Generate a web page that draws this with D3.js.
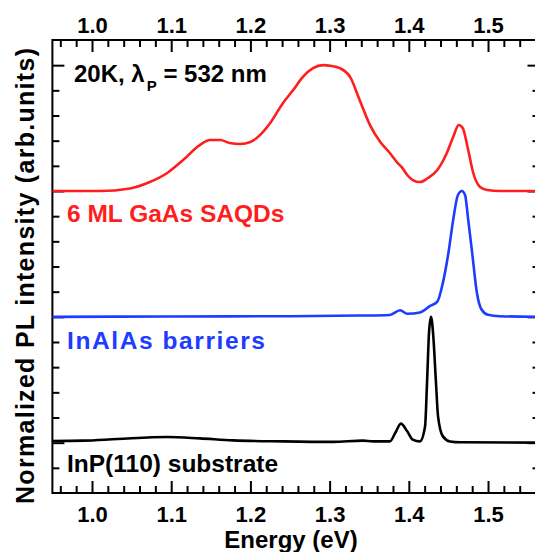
<!DOCTYPE html>
<html><head><meta charset="utf-8">
<script src="https://cdn.jsdelivr.net/npm/d3@7/dist/d3.min.js"></script>
<style>
body{margin:0;background:#fff;}
svg{display:block;font-family:"Liberation Sans",Arial,sans-serif;font-weight:bold;}
</style>
</head><body>
<svg id="chart" width="535" height="552"></svg>
<script>
// ---------- data ----------
const xTickValues = [1.0, 1.1, 1.2, 1.3, 1.4, 1.5];
const xTickLabels = ["1.0", "1.1", "1.2", "1.3", "1.4", "1.5"];
const xDomain = [0.95, 1.565];
const yDomain = [-0.4, 3.2];
const yMajorTicks = [0, 1, 2, 3];

const seriesNames = ["6 ML GaAs SAQDs", "InAlAs barriers", "InP(110) substrate"];
const seriesColors = ["#ff1e1e", "#1e3cff", "#000000"];
const seriesOffsets = [2, 1, 0];

const saqdEnergy = [0.95, 1.010, 1.048, 1.073, 1.095, 1.115, 1.136, 1.149, 1.162, 1.174, 1.187, 1.200, 1.212, 1.225, 1.241, 1.254, 1.266, 1.279, 1.292, 1.301, 1.313, 1.326, 1.338, 1.351, 1.364, 1.376, 1.386, 1.391, 1.398, 1.405, 1.414, 1.424, 1.436, 1.448, 1.456, 1.463, 1.468, 1.475, 1.481, 1.490, 1.499, 1.515, 1.565];
const saqdIntensity = [0.0, 0.0, 0.020, 0.071, 0.143, 0.246, 0.365, 0.405, 0.405, 0.381, 0.373, 0.389, 0.444, 0.540, 0.698, 0.802, 0.905, 0.976, 1.0, 0.995, 0.976, 0.905, 0.722, 0.524, 0.389, 0.302, 0.222, 0.190, 0.127, 0.087, 0.071, 0.103, 0.167, 0.302, 0.429, 0.524, 0.500, 0.325, 0.151, 0.032, 0.008, 0.0, 0.0];

const barrierEnergy = [0.95, 1.10, 1.25, 1.338, 1.376, 1.389, 1.398, 1.414, 1.427, 1.436, 1.443, 1.450, 1.456, 1.462, 1.467, 1.471, 1.475, 1.480, 1.486, 1.492, 1.500, 1.515, 1.565];
const barrierIntensity = [0.0, 0.003, 0.005, 0.010, 0.015, 0.052, 0.024, 0.034, 0.087, 0.121, 0.270, 0.508, 0.770, 0.968, 1.0, 0.968, 0.770, 0.508, 0.190, 0.056, 0.016, 0.005, 0.0];

const substrateEnergy = [0.95, 0.989, 1.032, 1.095, 1.136, 1.178, 1.241, 1.304, 1.342, 1.355, 1.376, 1.383, 1.390, 1.398, 1.405, 1.414, 1.4205, 1.423, 1.4255, 1.428, 1.4306, 1.4343, 1.4369, 1.443, 1.452, 1.465, 1.565];
const substrateIntensity = [0.013, 0.016, 0.029, 0.045, 0.034, 0.018, 0.010, 0.006, 0.016, 0.010, 0.010, 0.079, 0.151, 0.090, 0.024, 0.010, 0.129, 0.476, 0.873, 1.0, 0.873, 0.476, 0.209, 0.050, 0.010, 0.003, 0.0];

const seriesEnergy = [saqdEnergy, barrierEnergy, substrateEnergy];
const seriesIntensity = [saqdIntensity, barrierIntensity, substrateIntensity];

// ---------- layout ----------
const svg = d3.select("#chart");
const L = 52.4, R = 539.5, T = 40, B = 493;
const x = d3.scaleLinear().domain(xDomain).range([L, R]);
const y = d3.scaleLinear().domain(yDomain).range([B, T]);

const xMinor = d3.range(0.96, 1.5651, 0.02).map(v => +v.toFixed(2)).filter(v => !xTickValues.some(m => Math.abs(m - v) < 1e-6));
const yMinor = d3.range(-0.2, 3.19, 0.2).map(v => +v.toFixed(2)).filter(v => !yMajorTicks.some(m => Math.abs(m - v) < 1e-6));

const majorLen = 12, minorLen = 7;
function styleAxis(g) {
  g.select(".domain").remove();
  g.selectAll(".tick line").attr("stroke", "#000").attr("stroke-width", 2);
  g.selectAll("text").attr("fill", "#000").attr("font-size", 22).attr("font-weight", "bold")
    .attr("font-family", '"Liberation Sans", Arial, sans-serif');
}

// bottom
svg.append("g").attr("transform", `translate(0,${B})`)
  .call(d3.axisBottom(x).tickValues(xTickValues).tickFormat((d, i) => xTickLabels[i]).tickSizeInner(-majorLen).tickSizeOuter(0).tickPadding(13))
  .call(styleAxis);
svg.append("g").attr("transform", `translate(0,${B})`)
  .call(d3.axisBottom(x).tickValues(xMinor).tickFormat("").tickSizeInner(-minorLen).tickSizeOuter(0))
  .call(styleAxis);
// top
svg.append("g").attr("transform", `translate(0,${T})`)
  .call(d3.axisTop(x).tickValues(xTickValues).tickFormat((d, i) => xTickLabels[i]).tickSizeInner(-majorLen).tickSizeOuter(0).tickPadding(7))
  .call(styleAxis);
svg.append("g").attr("transform", `translate(0,${T})`)
  .call(d3.axisTop(x).tickValues(xMinor).tickFormat("").tickSizeInner(-minorLen).tickSizeOuter(0))
  .call(styleAxis);
// left
svg.append("g").attr("transform", `translate(${L},0)`)
  .call(d3.axisLeft(y).tickValues(yMajorTicks).tickFormat("").tickSizeInner(-majorLen).tickSizeOuter(0))
  .call(styleAxis);
svg.append("g").attr("transform", `translate(${L},0)`)
  .call(d3.axisLeft(y).tickValues(yMinor).tickFormat("").tickSizeInner(-minorLen).tickSizeOuter(0))
  .call(styleAxis);
// right
svg.append("g").attr("transform", `translate(${R},0)`)
  .call(d3.axisRight(y).tickValues(yMajorTicks).tickFormat("").tickSizeInner(-majorLen).tickSizeOuter(0))
  .call(styleAxis);
svg.append("g").attr("transform", `translate(${R},0)`)
  .call(d3.axisRight(y).tickValues(yMinor).tickFormat("").tickSizeInner(-minorLen).tickSizeOuter(0))
  .call(styleAxis);

// frame
svg.append("rect").attr("x", L).attr("y", T).attr("width", R - L).attr("height", B - T)
  .attr("fill", "none").attr("stroke", "#000").attr("stroke-width", 2);

// curves
svg.append("clipPath").attr("id", "plotclip").append("rect")
  .attr("x", L).attr("y", T).attr("width", R - L).attr("height", B - T);
const lineGen = d3.line().curve(d3.curveMonotoneX);
seriesNames.forEach((name, s) => {
  const pts = seriesEnergy[s].map((e, i) => [x(e), y(seriesIntensity[s][i] + seriesOffsets[s])]);
  svg.append("path").attr("d", lineGen(pts)).attr("fill", "none")
    .attr("stroke", seriesColors[s]).attr("stroke-width", 2.6)
    .attr("stroke-linejoin", "round").attr("clip-path", "url(#plotclip)");
});

// series labels
const labelPos = [[67, 222], [67, 349], [67, 472]];
const labelLength = [null, 198, null];
seriesNames.forEach((name, s) => {
  const t = svg.append("text").attr("x", labelPos[s][0]).attr("y", labelPos[s][1])
    .attr("fill", seriesColors[s]).attr("font-size", 24.5).text(name);
  if (labelLength[s]) t.attr("textLength", labelLength[s]).attr("lengthAdjust", "spacing");
});

// condition annotation
const ann = svg.append("text").attr("x", 74).attr("y", 82).attr("font-size", 24).attr("fill", "#000");
ann.append("tspan").text("20K, λ");
ann.append("tspan").attr("font-size", 15).attr("dx", 2).attr("dy", 9).text("P");
ann.append("tspan").attr("dy", -9).text(" = 532 nm");

// axis titles
svg.append("text").attr("x", 291).attr("y", 548).attr("text-anchor", "middle")
  .attr("font-size", 24).attr("fill", "#000").text("Energy (eV)");
svg.append("text").attr("transform", "translate(34,276) rotate(-90)").attr("text-anchor", "middle")
  .attr("font-size", 25).attr("textLength", 456).attr("lengthAdjust", "spacing")
  .attr("fill", "#000").text("Normalized PL intensity (arb.units)");
</script>
</body></html>
